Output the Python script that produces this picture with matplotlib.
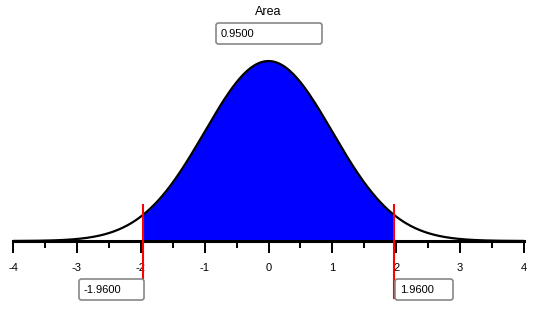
import numpy as np
import matplotlib.pyplot as plt
from matplotlib.patches import FancyBboxPatch

# distribution and the shaded interval
mean = 0.0
sd = 1.0
lower = -1.96
upper = 1.96
area = 0.95
xticks = [-4, -3, -2, -1, 0, 1, 2, 3, 4]

plt.rcParams['font.family'] = ['Liberation Sans', 'DejaVu Sans']

W, H = 533, 315
fig = plt.figure(figsize=(W/100, H/100), dpi=100)

# main axes: x from -4..4 spans pixel 13..524, baseline at pixel row 241
ymax = 0.45
ax = fig.add_axes([13/W, (H-241)/H, 511/W, 203/H])
ax.set_xlim(-4, 4)
ax.set_ylim(0, ymax)
px = ymax/203  # data units per pixel in y

x = np.linspace(-4, 4, 801)
pdf = np.exp(-0.5*((x-mean)/sd)**2)/(sd*np.sqrt(2*np.pi))
inside = (x >= lower) & (x <= upper)
ax.fill_between(x[inside], 0, pdf[inside], color='#0000FF', lw=0)
ax.plot(x, pdf, color='black', lw=1.6, solid_capstyle='round')

# red bound lines reaching below the axis
for b in (lower, upper):
    ax.plot([b, b], [-57*px, 36*px], color='#FF0000', lw=1.5, clip_on=False, zorder=5)

for s in ['top', 'right', 'left']:
    ax.spines[s].set_visible(False)
ax.spines['bottom'].set_linewidth(2.2)
ax.set_yticks([])
ax.set_xticks(xticks)
ax.set_xticklabels([str(t) for t in xticks])
ax.set_xticks(np.arange(-3.5, 4, 1), minor=True)
ax.tick_params(axis='x', which='major', direction='out', length=8.5, width=1.4, pad=7, labelsize=8)
ax.tick_params(axis='x', which='minor', direction='out', length=5, width=1.4)
ax.patch.set_alpha(0)

# overlay in pixel coordinates for the value boxes
ov = fig.add_axes([0, 0, 1, 1])
ov.set_xlim(0, W)
ov.set_ylim(H, 0)
ov.axis('off')
ov.patch.set_alpha(0)

def box(x0, y0, w, h, txt):
    ov.add_patch(FancyBboxPatch((x0, y0), w, h, boxstyle='round,pad=0,rounding_size=2.5',
                                fc='white', ec='#888888', lw=1.2))
    ov.text(x0+5, y0+h/2+0.5, txt, ha='left', va='center', fontsize=8)

ov.text(268, 12, 'Area', ha='center', va='center', fontsize=9)
box(216, 23, 106, 21, '%.4f' % area)
box(79, 279, 65, 21, '%.4f' % lower)
box(395, 279, 58, 21, '%.4f' % upper)

fig.savefig('out.png', dpi=100)
